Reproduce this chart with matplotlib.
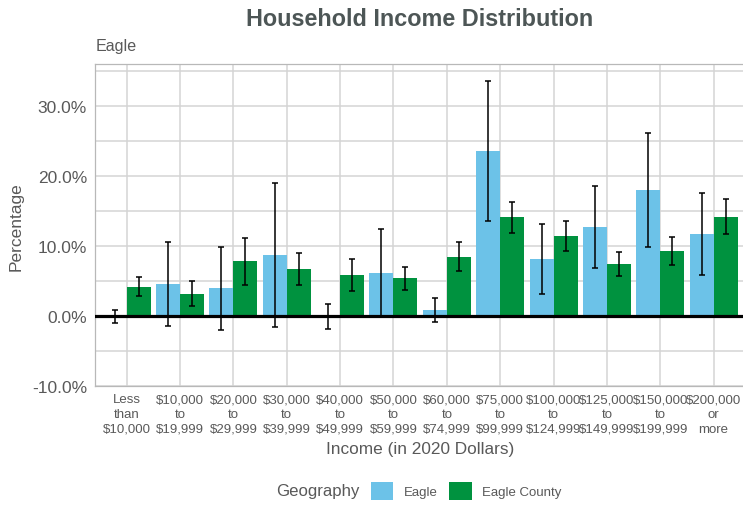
import numpy as np
import matplotlib
matplotlib.use("Agg")
import matplotlib.pyplot as plt
from matplotlib.patches import Patch
from matplotlib.ticker import FuncFormatter, MultipleLocator

plt.rcParams['font.family'] = ['Liberation Sans', 'DejaVu Sans']

# data (percent)
categories = ["Less\nthan\n\\$10,000", "\\$10,000\nto\n\\$19,999", "\\$20,000\nto\n\\$29,999",
              "\\$30,000\nto\n\\$39,999", "\\$40,000\nto\n\\$49,999", "\\$50,000\nto\n\\$59,999",
              "\\$60,000\nto\n\\$74,999", "\\$75,000\nto\n\\$99,999", "\\$100,000\nto\n\\$124,999",
              "\\$125,000\nto\n\\$149,999", "\\$150,000\nto\n\\$199,999", "\\$200,000\nor\nmore"]
eagle = [0.0, 4.6, 4.0, 8.8, 0.0, 6.2, 0.9, 23.6, 8.2, 12.8, 18.1, 11.7]
eagle_moe = [0.9, 6.0, 5.95, 10.3, 1.8, 6.2, 1.75, 9.95, 5.0, 5.85, 8.15, 5.85]
county = [4.25, 3.25, 7.85, 6.75, 5.85, 5.4, 8.5, 14.15, 11.45, 7.5, 9.35, 14.25]
county_moe = [1.3, 1.75, 3.4, 2.35, 2.3, 1.6, 2.05, 2.2, 2.1, 1.75, 2.0, 2.45]
series_names = ["Eagle", "Eagle County"]

blue = "#6cc2e8"
green = "#00923f"
text_col = "#595959"
title_col = "#4d5656"
grid_col = "#d4d4d4"

fig = plt.figure(figsize=(7.43, 5.06), dpi=100)
ax = fig.add_axes([0.1275, 0.2346, 0.876, 0.6364])

x = np.arange(len(categories))
w = 0.45
ax.bar(x - w / 2, eagle, width=w, color=blue, zorder=2)
ax.bar(x + w / 2, county, width=w, color=green, zorder=2)
ax.errorbar(x - w / 2, eagle, yerr=eagle_moe, fmt="none", ecolor="black",
            elinewidth=1.1, capsize=2.3, capthick=1.1, zorder=3)
ax.errorbar(x + w / 2, county, yerr=county_moe, fmt="none", ecolor="black",
            elinewidth=1.1, capsize=2.3, capthick=1.1, zorder=3)
ax.axhline(0, color="black", lw=2.3, zorder=4)

ax.set_xlim(-0.6, len(categories) - 0.4)
ax.set_ylim(-10, 36)
ax.set_xticks(x)
ax.set_xticklabels(categories, fontsize=9.5, color=text_col, linespacing=1.32)
ax.yaxis.set_major_locator(MultipleLocator(10))
ax.yaxis.set_minor_locator(MultipleLocator(5))
ax.yaxis.set_major_formatter(FuncFormatter(lambda v, p: f"{v:.1f}%"))
ax.tick_params(axis="y", labelsize=12.5, labelcolor=text_col, length=0, pad=5.5)
ax.tick_params(axis="x", length=0, pad=5)
ax.tick_params(which="minor", length=0)

ax.grid(True, which="major", color=grid_col, lw=1.1, zorder=0)
ax.grid(True, which="minor", axis="y", color=grid_col, lw=1.1, zorder=0)
ax.set_axisbelow(True)
for s in ax.spines.values():
    s.set_color("#b8b8b8")
    s.set_linewidth(0.9)
ax.spines["right"].set_visible(False)

ax.set_xlabel("Income (in 2020 Dollars)", fontsize=12.4, color=text_col, labelpad=4)
ax.set_ylabel("Percentage", fontsize=12.5, color=text_col, labelpad=6)

fig.text(0.565, 1 - 19 / 506, "Household Income Distribution", fontsize=16.8,
         fontweight="bold", color=title_col, ha="center", va="center")
fig.text(95.5 / 743, 1 - 47 / 506, "Eagle", fontsize=11.6, color=text_col,
         ha="left", va="center")

# legend along the bottom
handles = [Patch(facecolor=blue), Patch(facecolor=green)]
fig.text(276.5 / 743, 1 - 492 / 506, "Geography", fontsize=12.1, color=text_col,
         ha="left", va="center")
leg = fig.legend(handles, series_names, loc="center left",
                 bbox_to_anchor=(370.5 / 743, 1 - 492 / 506), ncol=2, frameon=False,
                 fontsize=9.5, handlelength=1.74, handleheight=1.67, handletextpad=0.76,
                 columnspacing=0.86, borderpad=0, borderaxespad=0)
for t in leg.get_texts():
    t.set_color(text_col)

fig.savefig("out.png", dpi=100)
